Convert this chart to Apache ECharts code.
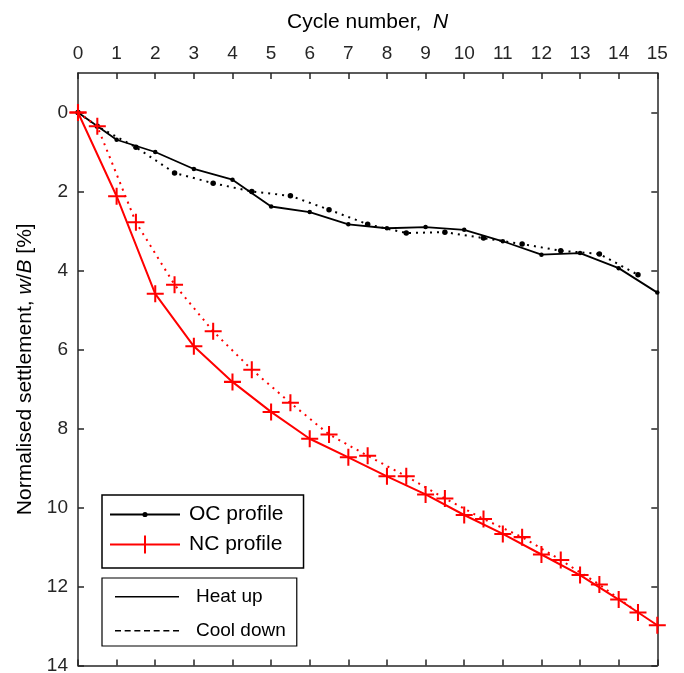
<!DOCTYPE html>
<html>
<head>
<meta charset="utf-8">
<script src="https://cdn.jsdelivr.net/npm/echarts@6/dist/echarts.min.js"></script>
<style>
html,body{margin:0;padding:0;background:#fff;}
#c{width:684px;height:673px;}
</style>
</head>
<body>
<div id="c"></div>
<script>
// ---- data ----
var cyclesHeat = [0,1,2,3,4,5,6,7,8,9,10,11,12,13,14,15];
var cyclesCool = [0,0.5,1.5,2.5,3.5,4.5,5.5,6.5,7.5,8.5,9.5,10.5,11.5,12.5,13.5,14.5];
var ocHeat = [0,0.69,1.00,1.43,1.70,2.38,2.52,2.83,2.93,2.90,2.97,3.26,3.60,3.56,3.94,4.56];
var ocCool = [0,0.35,0.88,1.53,1.79,2.00,2.11,2.46,2.83,3.05,3.03,3.18,3.33,3.50,3.58,4.11];
var ncHeat = [0,2.12,4.59,5.92,6.82,7.58,8.26,8.73,9.21,9.67,10.19,10.67,11.19,11.71,12.33,12.98];
var ncCool = [0,0.35,2.78,4.36,5.54,6.51,7.35,8.15,8.69,9.21,9.77,10.29,10.75,11.33,11.95,12.66];
var yTicks = [0,2,4,6,8,10,12,14];
var xName = 'Cycle number,  {i|N}';
var yName = 'Normalised settlement, {i|w}/{i|B} [%]';
var legendProfiles = ['OC profile','NC profile'];
var legendPhases = ['Heat up','Cool down'];

function pairs(xs, ys){ return xs.map(function(x,i){ return [x, ys[i]]; }); }

var FONT = 'Liberation Sans, Arial, sans-serif';
var AX = '#262626';
var plusPath = 'path://M8.8,0h2.4v20h-2.4zM0,8.8h20v2.4h-20z';
var c1 = 'M0,0h0.01v0.01h-0.01z';
function corner(w,h){ return 'M'+(w-0.01)+','+(h-0.01)+'h0.01v0.01h-0.01z'; }
var iconOC = 'path://' + c1 + corner(74,20) + 'M0,9h70v2h-70z M32.4,10a2.6,2.6 0 1,1 5.2,0a2.6,2.6 0 1,1 -5.2,0z';
var iconNC = 'path://' + c1 + corner(74,20) + 'M0,9h70v2h-70z M34,1h2v18h-2z';
var iconHeat = 'path://' + c1 + corner(76,20) + 'M0,9h64v1.5h-64z';
var dashes = '';
for (var k=0;k<7;k++){ dashes += 'M'+(k*9.67).toFixed(2)+',9h6v1.5h-6z'; }
var iconCool = 'path://' + c1 + corner(76,20) + dashes;

var chart = echarts.init(document.getElementById('c'), null, {renderer:'canvas'});

function xAxisBase(pos, showLabel){
  return {
    type:'value', position: pos, min:0, max:15, interval:1,
    axisLine:{show:true, onZero:false, lineStyle:{color:AX, width:1.5}},
    axisTick:{show:true, inside:true, length:6, lineStyle:{color:AX, width:1.5}},
    axisLabel:{show:showLabel, margin:10, fontSize:19, color:AX, fontFamily:FONT},
    splitLine:{show:false}
  };
}
function yAxisBase(pos, showLabel){
  return {
    type:'value', position: pos, inverse:true, min:-1, max:14,
    axisLine:{show:true, onZero:false, lineStyle:{color:AX, width:1.5}},
    axisTick:{show:true, inside:true, length:6, customValues: yTicks, lineStyle:{color:AX, width:1.5}},
    axisLabel:{show:showLabel, customValues: yTicks, margin:10, fontSize:19, color:AX, fontFamily:FONT},
    splitLine:{show:false}
  };
}

var xTop = xAxisBase('top', true);
xTop.name = xName;
xTop.nameLocation = 'middle';
xTop.nameGap = 40;
xTop.nameTextStyle = {fontSize:21, color:'#000', fontFamily:FONT, rich:{i:{fontStyle:'italic', fontSize:21, color:'#000', fontFamily:FONT}}};
var xBot = xAxisBase('bottom', false);
var yLeft = yAxisBase('left', true);
yLeft.name = yName;
yLeft.nameLocation = 'middle';
yLeft.nameGap = 42;
yLeft.nameRotate = 90;
yLeft.nameTextStyle = {fontSize:21, color:'#000', fontFamily:FONT, rich:{i:{fontStyle:'italic', fontSize:21, color:'#000', fontFamily:FONT}}};
var yRight = yAxisBase('right', false);

var option = {
  animation:false,
  backgroundColor:'#fff',
  textStyle:{fontFamily:FONT},
  grid:{left:78, right:26.7, top:73, bottom:7.5, containLabel:false, outerBoundsMode:'none'},
  xAxis:[xTop, xBot],
  yAxis:[yLeft, yRight],
  legend:[
    {
      data:[{name:legendProfiles[0], icon:iconOC},{name:legendProfiles[1], icon:iconNC}],
      orient:'vertical', left:102, top:495,
      padding:[9,20,13,8], itemGap:9, itemWidth:74, itemHeight:20,
      symbolKeepAspect:false, selectedMode:false,
      backgroundColor:'#fff', borderColor:'#000', borderWidth:1.5, borderRadius:0,
      itemStyle:{borderWidth:0},
      textStyle:{fontSize:21, color:'#000', fontFamily:FONT, lineHeight:20}
    },
    {
      data:[{name:legendPhases[0], icon:iconHeat},{name:legendPhases[1], icon:iconCool}],
      orient:'vertical', left:102, top:578,
      padding:[9,11,5,13], itemGap:14, itemWidth:76, itemHeight:20,
      symbolKeepAspect:false, selectedMode:false,
      backgroundColor:'#fff', borderColor:'#000', borderWidth:1.2, borderRadius:0,
      itemStyle:{borderWidth:0, color:'#000', opacity:1},
      textStyle:{fontSize:19, color:'#000', fontFamily:FONT, lineHeight:20}
    }
  ],
  series:[
    {
      name:legendProfiles[0], type:'line', data:pairs(cyclesHeat, ocHeat),
      xAxisIndex:0, yAxisIndex:0,
      symbol:'circle', symbolSize:4.5, showSymbol:true,
      lineStyle:{color:'#000', width:1.8},
      itemStyle:{color:'#000', borderWidth:0}, z:2
    },
    {
      name:'OC cool', type:'line', data:pairs(cyclesCool, ocCool),
      xAxisIndex:0, yAxisIndex:0,
      symbol:'circle', symbolSize:5.5, showSymbol:true,
      lineStyle:{color:'#000', width:2, type:[2,5]},
      itemStyle:{color:'#000', borderWidth:0}, z:2
    },
    {
      name:legendProfiles[1], type:'line', data:pairs(cyclesHeat, ncHeat),
      xAxisIndex:0, yAxisIndex:0,
      symbol:plusPath, symbolSize:17, showSymbol:true,
      lineStyle:{color:'#ff0000', width:2},
      itemStyle:{color:'#ff0000', borderWidth:0}, z:3
    },
    {
      name:'NC cool', type:'line', data:pairs(cyclesCool, ncCool),
      xAxisIndex:0, yAxisIndex:0,
      symbol:plusPath, symbolSize:17, showSymbol:true,
      lineStyle:{color:'#ff0000', width:2, type:[2,5]},
      itemStyle:{color:'#ff0000', borderWidth:0}, z:3
    },
    { name:legendPhases[0], type:'line', data:[], itemStyle:{color:'#000'}, lineStyle:{color:'#000'} },
    { name:legendPhases[1], type:'line', data:[], itemStyle:{color:'#000'}, lineStyle:{color:'#000'} }
  ]
};
chart.setOption(option);
</script>
</body>
</html>
